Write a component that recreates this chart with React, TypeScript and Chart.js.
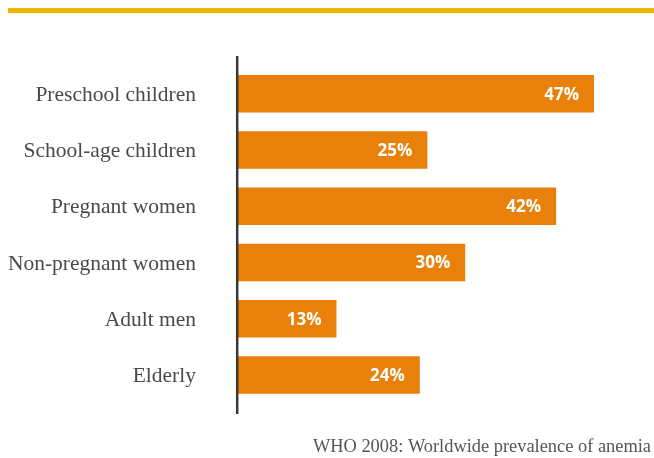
import React, { useEffect, useRef } from "react";
import { Chart, registerables } from "chart.js";
Chart.register(...registerables);

const categories = ["Preschool children", "School-age children", "Pregnant women", "Non-pregnant women", "Adult men", "Elderly"];
const values = [47, 25, 42, 30, 13, 24];
const valueLabels = ["47%", "25%", "42%", "30%", "13%", "24%"];
const sourceNote = "WHO 2008: Worldwide prevalence of anemia";

const W = 654;
const H = 458;

export default function App() {
  const ref = useRef<HTMLCanvasElement>(null);
  useEffect(() => {
    const canvas = ref.current!;
    const decor = {
      id: "decor",
      beforeDraw(chart: any) {
        const ctx = chart.ctx;
        ctx.save();
        ctx.fillStyle = "#F2B600";
        ctx.fillRect(8, 8, W - 8, 5);
        ctx.restore();
      },
      afterDatasetsDraw(chart: any) {
        const ctx = chart.ctx;
        const meta = chart.getDatasetMeta(0);
        ctx.save();
        ctx.fillStyle = "#ffffff";
        ctx.font = "bold 17px 'Open Sans'";
        ctx.textAlign = "right";
        ctx.textBaseline = "middle";
        meta.data.forEach((bar: any, i: number) => {
          ctx.fillText(valueLabels[i], bar.x - 15, bar.y + 1);
        });
        const area = chart.chartArea;
        ctx.strokeStyle = "#383838";
        ctx.lineWidth = 2.5;
        ctx.beginPath();
        ctx.moveTo(area.left - 0.8, 56);
        ctx.lineTo(area.left - 0.8, 414);
        ctx.stroke();
        ctx.fillStyle = "#555555";
        ctx.font = "18.4px 'Liberation Serif'";
        ctx.textAlign = "right";
        ctx.textBaseline = "alphabetic";
        ctx.fillText(sourceNote, 651, 452);
        ctx.restore();
      },
    };
    const chart = new Chart(canvas, {
      type: "bar",
      data: {
        labels: categories,
        datasets: [
          {
            data: values,
            backgroundColor: "#E8800A",
            barPercentage: 0.665,
            categoryPercentage: 1,
          },
        ],
      },
      options: {
        indexAxis: "y",
        responsive: false,
        animation: false,
        layout: { padding: { left: 0, right: 37.3, top: 65.6, bottom: 51.5 } },
        plugins: { legend: { display: false }, tooltip: { enabled: false } },
        scales: {
          x: { display: false, min: 0, max: 50 },
          y: {
            afterFit(s: any) {
              s.width = 238;
            },
            grid: { display: false, drawTicks: false },
            border: { display: false },
            ticks: {
              padding: 42,
              labelOffset: 1.5,
              color: "#4a4a4a",
              font: { family: "'Liberation Serif'", size: 21.5 },
            },
          },
        },
      },
      plugins: [decor],
    });
    return () => chart.destroy();
  }, []);
  return (
    <div style={{ position: "fixed", left: 0, top: 0, width: W, height: H, background: "#fff" }}>
      <canvas ref={ref} width={W} height={H} style={{ display: "block" }} />
    </div>
  );
}
